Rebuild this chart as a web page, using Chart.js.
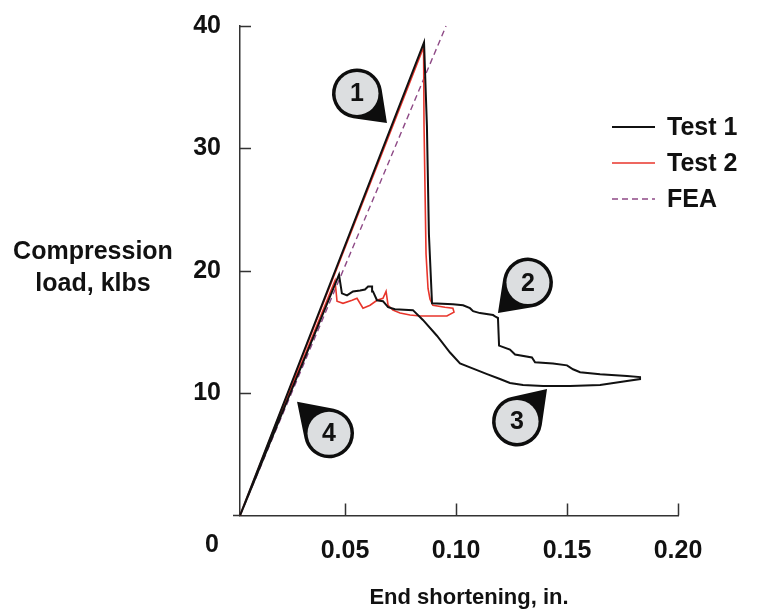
<!DOCTYPE html>
<html>
<head>
<meta charset="utf-8">
<script src="https://cdn.jsdelivr.net/npm/chart.js@4.4.1/dist/chart.umd.min.js"></script>
<style>
  html, body { margin: 0; padding: 0; background: #ffffff; }
  #c { display: block; }
</style>
</head>
<body>
<canvas id="c" width="764" height="612"></canvas>
<script>
// ---------------- data ----------------
const xTicks = [0.05, 0.10, 0.15, 0.20];
const yTicks = [10, 20, 30, 40];
const xTickLabels = ["0.05", "0.10", "0.15", "0.20"];
const originLabel = "0";
const xTitle = "End shortening, in.";
const yTitleLines = ["Compression", "load, klbs"];
const seriesNames = ["Test 1", "Test 2", "FEA"];

const test1X = [0.0027, 0.0856, 0.0869, 0.0878, 0.0892, 0.0986, 0.1032, 0.1063, 0.1077, 0.1108,
  0.1167, 0.1180, 0.1189, 0.1194, 0.1243, 0.1266, 0.1342, 0.1356, 0.1437, 0.1500,
  0.1527, 0.1559, 0.1649, 0.1770, 0.1829, 0.1829, 0.1770, 0.1649, 0.1514, 0.1392,
  0.1302, 0.1243, 0.1198, 0.1140, 0.1063, 0.1018, 0.0973, 0.0914, 0.0851, 0.0806,
  0.0725, 0.0694, 0.0671, 0.0644, 0.0626, 0.0622, 0.0604, 0.0590, 0.0568, 0.0536,
  0.0509, 0.0486, 0.0473, 0.0027];
const test1Y = [0.0, 38.67, 31.83, 22.98, 17.34, 17.26, 17.18, 16.94, 16.70, 16.54,
  16.38, 16.22, 16.14, 13.88, 13.56, 13.16, 12.92, 12.52, 12.43, 12.27,
  11.95, 11.71, 11.55, 11.39, 11.31, 11.15, 10.99, 10.66, 10.58, 10.58,
  10.66, 10.83, 11.15, 11.55, 12.11, 12.43, 13.32, 14.69, 15.98, 16.78,
  16.86, 17.02, 17.51, 17.59, 18.31, 18.71, 18.71, 18.47, 18.39, 18.31,
  17.99, 18.15, 19.68, 0.0];

const test2X = [0.0027, 0.0854, 0.0856, 0.0865, 0.0874, 0.0883, 0.0896, 0.0950, 0.0986, 0.0991,
  0.0959, 0.0838, 0.0793, 0.0748, 0.0716, 0.0694, 0.0685, 0.0671, 0.0644, 0.0613,
  0.0581, 0.0554, 0.0532, 0.0491, 0.0464, 0.0455, 0.0027];
const test2Y = [0.0, 38.27, 31.83, 21.37, 18.55, 17.67, 17.18, 17.02, 16.94, 16.62,
  16.30, 16.30, 16.38, 16.54, 16.78, 17.18, 18.31, 17.75, 17.59, 17.18,
  16.94, 17.75, 17.59, 17.34, 17.51, 19.20, 0.0];

const feaX = [0.0027, 0.0955];
const feaY = [0.0, 40.0];

// callouts: number, circle centre (data units), pointer tip (data units)
const calloutNums = ["1", "2", "3", "4"];
const calloutCX = [0.0554, 0.1324, 0.1275, 0.0428];
const calloutCY = [34.49, 19.03, 7.69, 6.72];
const calloutTX = [0.0689, 0.1189, 0.1410, 0.0284];
const calloutTY = [32.07, 16.54, 10.34, 9.30];

// ---------------- helpers ----------------
function pts(xs, ys) { return xs.map((x, i) => ({ x: x, y: ys[i] })); }
const FONT = '"Liberation Sans", Arial, Helvetica, sans-serif';
const colors = ["#111111", "#e8352b", "#8e4a86"];

const overlay = {
  id: 'overlay',
  afterDraw(chart) {
    const ctx = chart.ctx;
    const xs = chart.scales.x, ys = chart.scales.y;
    const area = chart.chartArea;
    ctx.save();
    // inward tick marks and short axis extension left of the origin
    ctx.strokeStyle = '#333333';
    ctx.lineWidth = 1.5;
    ctx.beginPath();
    xTicks.forEach(v => {
      const p = Math.round(xs.getPixelForValue(v)) + 0.5;
      ctx.moveTo(p, area.bottom);
      ctx.lineTo(p, area.bottom - 12);
    });
    yTicks.forEach(v => {
      const p = Math.round(ys.getPixelForValue(v)) + 0.5;
      ctx.moveTo(area.left, p);
      ctx.lineTo(area.left + 11, p);
    });
    ctx.moveTo(area.left - 7, area.bottom);
    ctx.lineTo(area.left, area.bottom);
    ctx.stroke();

    ctx.fillStyle = '#111111';
    ctx.font = 'bold 25px ' + FONT;
    ctx.textAlign = 'center';
    ctx.textBaseline = 'middle';
    // shared origin label
    ctx.fillText(originLabel, area.left - 28, 545);

    // axis titles
    ctx.font = 'bold 22px ' + FONT;
    ctx.fillText(xTitle, 469, 598);
    ctx.font = 'bold 25px ' + FONT;
    ctx.fillText(yTitleLines[0], 93, 252);
    ctx.fillText(yTitleLines[1], 93, 284);

    // legend
    const legY = [127, 163, 199];
    chart.data.datasets.forEach((ds, i) => {
      ctx.beginPath();
      ctx.strokeStyle = ds.borderColor;
      ctx.lineWidth = ds.borderWidth;
      ctx.setLineDash(ds.borderDash || []);
      ctx.moveTo(612, legY[i]);
      ctx.lineTo(655, legY[i]);
      ctx.stroke();
      ctx.setLineDash([]);
      ctx.fillStyle = '#111111';
      ctx.font = 'bold 25px ' + FONT;
      ctx.textAlign = 'left';
      ctx.fillText(ds.label, 667, legY[i] + 1);
    });

    // callouts
    calloutNums.forEach((n, i) => {
      const cx = xs.getPixelForValue(calloutCX[i]);
      const cy = ys.getPixelForValue(calloutCY[i]);
      const tx = xs.getPixelForValue(calloutTX[i]);
      const ty = ys.getPixelForValue(calloutTY[i]);
      const R = 25;
      const dx = tx - cx, dy = ty - cy;
      const d = Math.sqrt(dx * dx + dy * dy);
      const ang = Math.atan2(dy, dx);
      const half = Math.acos(R / d);
      ctx.beginPath();
      ctx.moveTo(tx, ty);
      ctx.arc(cx, cy, R, ang + half, ang - half + Math.PI * 2, false);
      ctx.closePath();
      ctx.fillStyle = '#0d0d0d';
      ctx.fill();
      ctx.beginPath();
      ctx.arc(cx, cy, R - 3.5, 0, Math.PI * 2);
      ctx.fillStyle = '#dcdee0';
      ctx.fill();
      ctx.fillStyle = '#111111';
      ctx.font = 'bold 25px ' + FONT;
      ctx.textAlign = 'center';
      ctx.textBaseline = 'middle';
      ctx.fillText(n, cx, cy + 1);
    });
    ctx.restore();
  }
};

new Chart(document.getElementById('c'), {
  type: 'scatter',
  data: {
    datasets: [
      { label: seriesNames[0], data: pts(test1X, test1Y), showLine: true, borderColor: colors[0],
        backgroundColor: colors[0], borderWidth: 2, pointRadius: 0, tension: 0 },
      { label: seriesNames[1], data: pts(test2X, test2Y), showLine: true, borderColor: colors[1],
        backgroundColor: colors[1], borderWidth: 1.6, pointRadius: 0, tension: 0 },
      { label: seriesNames[2], data: pts(feaX, feaY), showLine: true, borderColor: colors[2],
        backgroundColor: colors[2], borderWidth: 1.4, borderDash: [6, 4], pointRadius: 0, tension: 0 }
    ]
  },
  options: {
    responsive: false,
    devicePixelRatio: 1,
    animation: false,
    clip: false,
    layout: { padding: { top: 18, right: 86, left: 0, bottom: 0 } },
    plugins: { legend: { display: false }, tooltip: { enabled: false }, title: { display: false } },
    scales: {
      x: {
        type: 'linear', min: 0.0027, max: 0.2,
        afterBuildTicks: s => { s.ticks = xTicks.map(v => ({ value: v })); },
        afterFit: s => { s.height = 96.5; },
        grid: { display: false },
        border: { display: true, color: '#333333', width: 1.5 },
        ticks: {
          padding: 13, color: '#111111', maxRotation: 0, autoSkip: false,
          font: { family: FONT, size: 25, weight: 'bold' },
          callback: (v) => { const k = xTicks.indexOf(v); return k >= 0 ? xTickLabels[k] : ''; }
        }
      },
      y: {
        type: 'linear', min: 0, max: 40,
        afterBuildTicks: s => { s.ticks = yTicks.map(v => ({ value: v })); },
        afterFit: s => { s.width = 240; },
        grid: { display: false },
        border: { display: true, color: '#333333', width: 1.5 },
        ticks: {
          padding: 11, color: '#111111', autoSkip: false,
          font: { family: FONT, size: 25, weight: 'bold' },
          callback: (v) => String(v)
        }
      }
    }
  },
  plugins: [overlay]
});
</script>
</body>
</html>
